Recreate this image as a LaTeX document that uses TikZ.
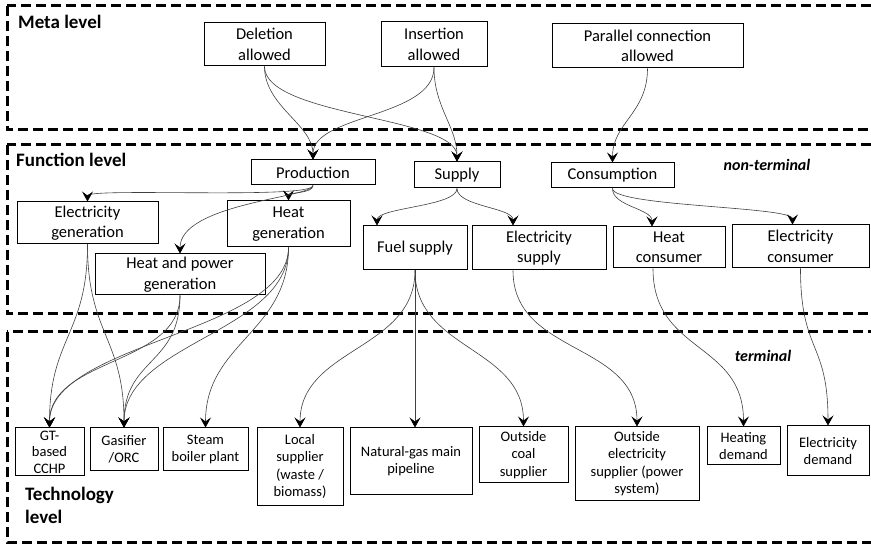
\documentclass[tikz,border=0pt]{standalone}
\usepackage{fontspec}
\setmainfont{Carlito}
\usepackage{tikz}
\usetikzlibrary{arrows.meta}

\begin{document}
\begin{tikzpicture}[x=1pt, y=-1pt,
    box/.style={draw, line width=1pt, align=center, inner sep=1pt},
    fbox/.style={box, font=\fontsize{16.5}{20.5}\selectfont},
    tbox/.style={box, font=\fontsize{14.5}{17.5}\selectfont},
    level/.style={font=\fontsize{19}{23}\selectfont\bfseries, anchor=west, align=left, inner sep=2pt},
    tag/.style={font=\fontsize{16}{19}\selectfont\bfseries\itshape},
    frame/.style={line width=3pt, dash pattern=on 10pt off 5pt},
    link/.style={black!75, line width=0.6pt, -{Stealth[length=10pt,width=11pt,inset=4pt,black]}}]
    \useasboundingbox (0,0) rectangle (871,545);

    \draw[frame] (7,6) rectangle (885,130);
    \draw[frame] (7,145) rectangle (885,314);
    \draw[frame] (7,332) rectangle (885,542);

    \node[level] (meta) at (16,22) {Meta level};
    \node[level] (func) at (14,160) {Function level};
    \node[level] (tech) at (23,505) {Technology\\level};
    \node[tag] (nonterm) at (767,165) {non-terminal};
    \node[tag] (term) at (763,356) {terminal};

    % meta level
    \node[fbox, minimum width=121, minimum height=43] (del) at (264.5,44.5) {Deletion\\allowed};
    \node[fbox, minimum width=106, minimum height=45] (ins) at (434,44.5) {Insertion\\allowed};
    \node[fbox, minimum width=191, minimum height=44] (par) at (647.5,46) {Parallel connection\\allowed};

    % function level
    \node[fbox, minimum width=124, minimum height=25] (prod) at (313,172.5) {Production};
    \node[fbox, minimum width=86, minimum height=26] (sup) at (457,175) {Supply};
    \node[fbox, minimum width=123, minimum height=25] (con) at (612.5,175.5) {Consumption};
    \node[fbox, minimum width=141, minimum height=42] (egen) at (87.5,223) {Electricity\\generation};
    \node[fbox, minimum width=123, minimum height=46] (hgen) at (288.5,224) {Heat\\generation};
    \node[fbox, minimum width=170, minimum height=41] (hpgen) at (180,274.5) {Heat and power\\generation};
    \node[fbox, minimum width=104, minimum height=44] (fuel) at (415,248) {Fuel supply};
    \node[fbox, minimum width=134, minimum height=44] (esup) at (539,248) {Electricity\\supply};
    \node[fbox, minimum width=112, minimum height=41] (hcon) at (669,247.5) {Heat\\consumer};
    \node[fbox, minimum width=137, minimum height=43] (econ) at (800.5,246.5) {Electricity\\consumer};

    % technology level
    \node[tbox, minimum width=69, minimum height=48, inner ysep=0pt, font=\fontsize{14.5}{16.5}\selectfont] (gt) at (49.5,452) {GT-\\based\\CCHP};
    \node[tbox, minimum width=68, minimum height=43] (gas) at (124,449.5) {Gasifier\\/ORC};
    \node[tbox, minimum width=85, minimum height=43] (steam) at (205.5,449.5) {Steam\\boiler plant};
    \node[tbox, minimum width=86, minimum height=77] (local) at (300,466.5) {Local\\supplier\\(waste /\\biomass)};
    \node[tbox, minimum width=122, minimum height=66] (ng) at (411,461) {Natural-gas main\\pipeline};
    \node[tbox, minimum width=89, minimum height=56] (coal) at (523.5,455) {Outside\\coal\\supplier};
    \node[tbox, minimum width=124, minimum height=73] (oel) at (637,463.5) {Outside\\electricity\\supplier (power\\system)};
    \node[tbox, minimum width=73, minimum height=38] (heatd) at (743.5,446) {Heating\\demand};
    \node[tbox, minimum width=82, minimum height=50] (eld) at (828,451) {Electricity\\demand};

    % meta -> function
    \draw[link] (del.south) .. controls +(0,40) and +(0,-35) .. (prod.north);
    \draw[link] (del.south) .. controls +(0,50) and +(0,-45) .. (sup.north);
    \draw[link] (ins.south) .. controls +(0,50) and +(0,-45) .. (prod.north);
    \draw[link] (ins.south) .. controls +(0,40) and +(0,-35) .. (sup.north);
    \draw[link] (par.south) .. controls +(0,45) and +(0,-40) .. (con.north);

    % function -> function
    \draw[link] (prod.south) .. controls +(0,14) and +(0,-14) .. (egen.north);
    \draw[link] (prod.south) .. controls +(0,8) and +(0,-8) .. (hgen.north);
    \draw[link] (prod.south) .. controls +(0,12) and +(0,-50) .. (hpgen.north);
    \draw[link] (sup.south) .. controls +(0,18) and +(0,-18) .. ([xshift=-38pt]fuel.north);
    \draw[link] (sup.south) .. controls +(0,18) and +(0,-18) .. ([xshift=-26pt]esup.north);
    \draw[link] (con.south) .. controls +(0,18) and +(0,-18) .. ([xshift=-17pt]hcon.north);
    \draw[link] (con.south) .. controls +(0,18) and +(0,-18) .. ([xshift=-8pt]econ.north);

    % function -> technology
    \draw[link] (egen.south) .. controls +(0,90) and +(0,-90) .. (gt.north);
    \draw[link] (egen.south) .. controls +(0,90) and +(0,-90) .. (gas.north);
    \draw[link] (hpgen.south) .. controls +(0,70) and +(0,-70) .. (gt.north);
    \draw[link] (hpgen.south) .. controls +(0,70) and +(0,-70) .. (gas.north);
    \draw[link] (hgen.south) .. controls +(0,85) and +(0,-85) .. (gt.north);
    \draw[link] (hgen.south) .. controls +(0,85) and +(0,-85) .. (gas.north);
    \draw[link] (hgen.south) .. controls +(0,85) and +(0,-85) .. (steam.north);
    \draw[link] (fuel.south) .. controls +(0,80) and +(0,-80) .. (local.north);
    \draw[link] (fuel.south) -- (fuel.south |- ng.north);
    \draw[link] (fuel.south) .. controls +(0,80) and +(0,-80) .. (coal.north);
    \draw[link] ([xshift=-26pt]esup.south) .. controls +(0,85) and +(0,-85) .. (oel.north);
    \draw[link] ([xshift=-16pt]hcon.south) .. controls +(0,85) and +(0,-85) .. (heatd.north);
    \draw[link] (econ.south) .. controls +(0,85) and +(0,-85) .. (eld.north);

\end{tikzpicture}
\end{document}
